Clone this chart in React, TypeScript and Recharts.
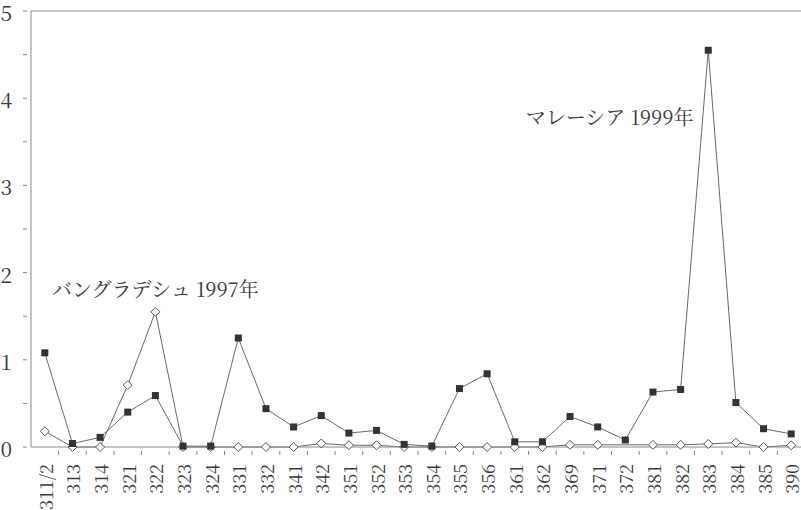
import { LineChart, Line, XAxis, YAxis, ReferenceLine, ReferenceDot } from "recharts";

const categories = [
  "311/2", "313", "314", "321", "322", "323", "324", "331", "332", "341",
  "342", "351", "352", "353", "354", "355", "356", "361", "362", "369",
  "371", "372", "381", "382", "383", "384", "385", "390",
];

const malaysia1999 = [
  1.08, 0.04, 0.11, 0.4, 0.59, 0.01, 0.01, 1.25, 0.44, 0.23,
  0.36, 0.16, 0.19, 0.03, 0.01, 0.67, 0.84, 0.06, 0.06, 0.35,
  0.23, 0.08, 0.63, 0.66, 4.55, 0.51, 0.21, 0.15,
];

const bangladesh1997 = [
  0.18, 0, 0, 0.71, 1.55, 0, 0, 0, 0, 0,
  0.04, 0.02, 0.02, 0, 0, 0, 0, 0, 0, 0.025,
  0.025, null, 0.025, 0.025, 0.035, 0.05, 0, 0.02,
];

const yTicks = [0, 0.5, 1, 1.5, 2, 2.5, 3, 3.5, 4, 4.5, 5];

const data = categories.map((code, i) => ({
  code,
  malaysia: malaysia1999[i],
  bangladesh: bangladesh1997[i],
}));

const CHART_W = 805;
const CHART_H = 510;
const Y_W = 31;
const band = (CHART_W - Y_W) / categories.length;
const FONT = "Noto Serif CJK JP";
const AXIS = "#8a8a8a";
const INK = "#3c3c3c";

const XTick = (props: any) => {
  const { x, y, payload } = props;
  return (
    <g>
      <line x1={x + band / 2} y1={y} x2={x + band / 2} y2={y - 4} stroke={AXIS} />
      <text
        transform={`translate(${x},${y + 9}) rotate(-90)`}
        textAnchor="end"
        dominantBaseline="central"
        style={{ fontSize: 18, fontFamily: FONT }}
        fill={INK}
      >
        {payload.value}
      </text>
    </g>
  );
};

const YTick = (props: any) => {
  const { x, y, payload } = props;
  const major = Number.isInteger(payload.value);
  return (
    <g>
      <line x1={x} y1={y} x2={x + 4} y2={y} stroke={AXIS} />
      {major && (
        <text
          x={x - 11}
          y={y + 1}
          textAnchor="end"
          dominantBaseline="central"
          style={{ fontSize: 21, fontFamily: FONT }}
          fill={INK}
        >
          {payload.value}
        </text>
      )}
    </g>
  );
};

const Square = (props: any) => {
  const { cx, cy, index } = props;
  if (cy == null) return <g key={index} />;
  return <rect key={index} x={cx - 3.5} y={cy - 3.5} width={7} height={7} fill="#333" />;
};

const Diamond = (props: any) => {
  const { cx, cy, index } = props;
  if (cy == null) return <g key={index} />;
  const r = 4.5;
  return (
    <polygon
      key={index}
      points={`${cx},${cy - r} ${cx + r},${cy} ${cx},${cy + r} ${cx - r},${cy}`}
      fill="#fff"
      stroke="#555"
      strokeWidth={1}
    />
  );
};

const labelStyle = { fontSize: 20, fontFamily: FONT, fill: INK };

export default function App() {
  return (
    <div style={{ position: "absolute", left: 0, top: 0, width: 801, height: 510, overflow: "hidden", background: "#fff", fontFamily: FONT }}>
      <LineChart width={CHART_W} height={CHART_H} data={data} margin={{ top: 11, right: 0, left: 0, bottom: 0 }}>
        <XAxis
          dataKey="code"
          scale="band"
          interval={0}
          height={63}
          tick={<XTick />}
          tickLine={false}
          axisLine={{ stroke: AXIS }}
        />
        <YAxis
          domain={[0, 5]}
          ticks={yTicks}
          interval={0}
          width={Y_W}
          tick={<YTick />}
          tickLine={false}
          axisLine={{ stroke: AXIS }}
        />
        <ReferenceLine y={5} stroke="#b5b5b5" strokeWidth={1.5} />
        <Line
          dataKey="bangladesh"
          stroke="#6a6a6a"
          strokeWidth={1}
          connectNulls
          dot={<Diamond />}
          isAnimationActive={false}
        />
        <Line
          dataKey="malaysia"
          stroke="#6a6a6a"
          strokeWidth={1}
          dot={<Square />}
          isAnimationActive={false}
        />
        <ReferenceDot
          x="322"
          y={1.8}
          r={0}
          ifOverflow="visible"
          label={{ value: "バングラデシュ 1997年", position: "center", style: labelStyle }}
        />
        <ReferenceDot
          x="371"
          y={3.77}
          r={0}
          ifOverflow="visible"
          label={{ value: "マレーシア 1999年", position: "center", dx: 12, style: labelStyle }}
        />
      </LineChart>
    </div>
  );
}
